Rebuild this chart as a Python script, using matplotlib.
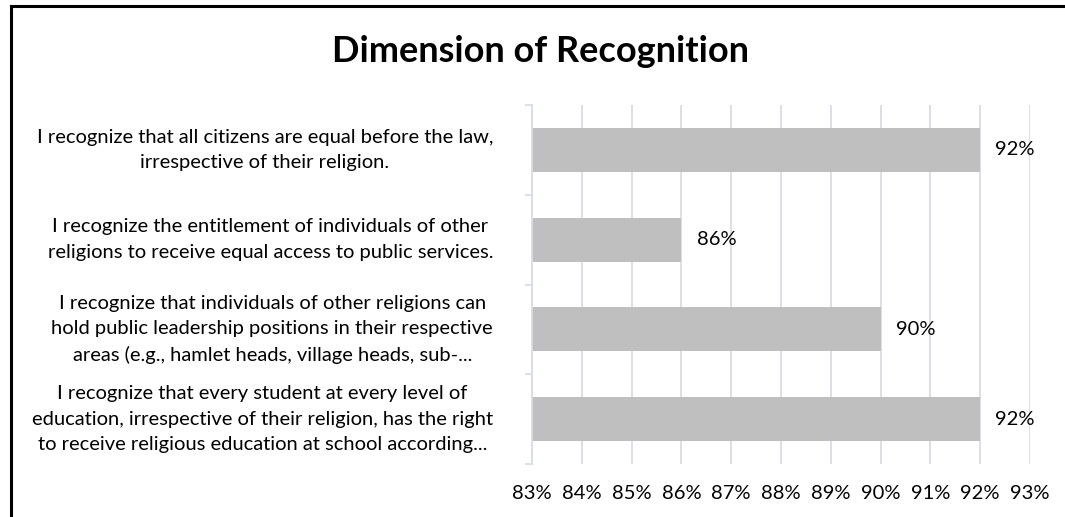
import matplotlib
matplotlib.use("Agg")
import matplotlib.pyplot as plt
from matplotlib.lines import Line2D
from matplotlib.ticker import PercentFormatter

plt.rcParams['font.family'] = ['Lato', 'DejaVu Sans']

title = "Dimension of Recognition"
categories = [
    "I recognize that all citizens are equal before the law,\nirrespective of their religion.",
    "I recognize the entitlement of individuals of other\nreligions to receive equal access to public services.",
    "I recognize that individuals of other religions can\nhold public leadership positions in their respective\nareas (e.g., hamlet heads, village heads, sub-...",
    "I recognize that every student at every level of\neducation, irrespective of their religion, has the right\nto receive religious education at school according...",
]
values = [0.92, 0.86, 0.90, 0.92]
x_ticks = [0.83, 0.84, 0.85, 0.86, 0.87, 0.88, 0.89, 0.90, 0.91, 0.92, 0.93]

GRID = "#D9DDE4"
W, H = 1065, 517
FS = 14.5

fig = plt.figure(figsize=(W / 100, H / 100), dpi=100)
ax = fig.add_axes([532 / W, 1 - 464 / H, (1030 - 532) / W, (464 - 105) / H])

pos = list(range(len(categories)))
ax.barh(pos, values, height=0.49, color="#BFBFBF", zorder=2)

ax.set_xlim(x_ticks[0], x_ticks[-1])
ax.set_xticks(x_ticks)
ax.xaxis.set_major_formatter(PercentFormatter(1.0, decimals=0))
ax.tick_params(axis="x", length=0, pad=15, labelsize=FS)
ax.grid(axis="x", color=GRID, linewidth=1.3, zorder=0)

ax.set_ylim(len(categories) - 0.5, -0.5)
# boundary ticks on the category axis
ax.set_yticks([p - 0.5 for p in pos] + [pos[-1] + 0.5])
ax.set_yticklabels([])
ax.tick_params(axis="y", which="major", length=5, width=1.3, color=GRID)

# category labels, centred lines, block right-aligned left of the axis
for p, c in zip(pos, categories):
    ax.annotate(c, xy=(0, p), xycoords=("axes fraction", "data"),
                xytext=(-28, 0), textcoords="offset points",
                ha="right", va="center", multialignment="center",
                linespacing=1.6, fontsize=FS)

for s in ["top", "right", "bottom"]:
    ax.spines[s].set_visible(False)
ax.spines["left"].set_color(GRID)
ax.spines["left"].set_linewidth(1.3)

for p, v in zip(pos, values):
    ax.annotate(f"{v:.0%}", xy=(v, p), xytext=(11, 0), textcoords="offset points",
                va="center", ha="left", fontsize=FS)

fig.text(541 / W, 1 - 51 / H, title, ha="center", va="center",
         fontsize=26, fontweight="bold")

# outer frame (cropped at right and bottom)
fig.add_artist(Line2D([11 / W, 11 / W], [0, 1 - 6 / H], color="black", linewidth=2.2, transform=fig.transFigure))
fig.add_artist(Line2D([11 / W, 1], [1 - 6 / H, 1 - 6 / H], color="black", linewidth=2.2, transform=fig.transFigure))

fig.savefig("out.png", dpi=100)
